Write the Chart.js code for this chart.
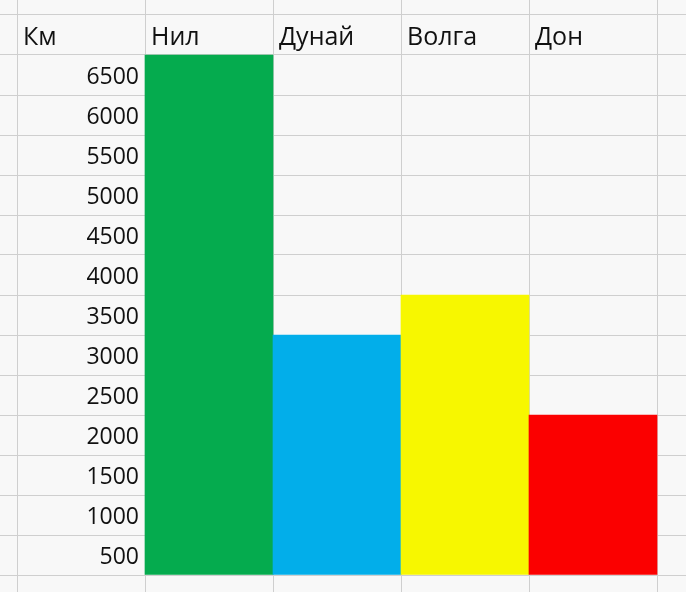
<!DOCTYPE html>
<html>
<head>
<meta charset="utf-8">
<script src="https://cdn.jsdelivr.net/npm/chart.js@4"></script>
<style>
  body { margin: 0; background: #f8f8f8; }
  #wrap { width: 686px; height: 592px; }
</style>
</head>
<body>
<div id="wrap"><canvas id="chart"></canvas></div>
<script>
// river lengths, km (one spreadsheet row = 500 km)
const unitLabel = 'Км';
const rivers = ['Нил', 'Дунай', 'Волга', 'Дон'];
const lengths = [6500, 3000, 3500, 2000];
const riverColors = ['#05ab4e', '#02aeea', '#f7f700', '#fb0000'];
const rowLabels = [6500, 6000, 5500, 5000, 4500, 4000, 3500, 3000, 2500, 2000, 1500, 1000, 500];

const step = 500;
const headFont = '25px "Open Sans", "Noto Sans", sans-serif';
const cellFont = '23px "Open Sans", "Noto Sans", sans-serif';

// texts of the sheet: header row and the km column
const sheetText = {
  id: 'sheetText',
  afterDatasetsDraw(chart) {
    const ctx = chart.ctx;
    const xs = chart.scales.x;
    const ys = chart.scales.y;
    ctx.save();
    ctx.fillStyle = '#111';
    ctx.textBaseline = 'middle';

    const top = rowLabels[0] + step;
    const headY = (ys.getPixelForValue(top) + ys.getPixelForValue(top - step)) / 2 + 3;
    ctx.font = headFont;
    ctx.textAlign = 'left';
    [unitLabel].concat(rivers).forEach((h, i) => {
      ctx.fillText(h, xs.getPixelForValue(i) + 6, headY);
    });

    ctx.font = cellFont;
    ctx.textAlign = 'right';
    rowLabels.forEach((v) => {
      const y = (ys.getPixelForValue(v) + ys.getPixelForValue(v - step)) / 2 + 2;
      ctx.fillText(String(v), xs.getPixelForValue(1) - 6, y);
    });
    ctx.restore();
  }
};

new Chart(document.getElementById('chart'), {
  type: 'bar',
  data: {
    datasets: [{
      label: unitLabel,
      data: lengths.map((v, i) => ({x: i + 1.5, y: v})),
      backgroundColor: riverColors,
      borderWidth: 0,
      barPercentage: 1,
      categoryPercentage: 1
    }]
  },
  options: {
    responsive: true,
    maintainAspectRatio: false,
    animation: false,
    layout: {padding: 0},
    plugins: {legend: {display: false}, tooltip: {enabled: false}},
    scales: {
      x: {
        type: 'linear',
        offset: false,
        min: -17 / 128,
        max: 669 / 128,
        afterBuildTicks: (s) => { s.ticks = [0, 1, 2, 3, 4, 5].map((v) => ({value: v})); },
        ticks: {display: false},
        border: {display: false},
        grid: {color: '#cfcfcf', lineWidth: 1, drawTicks: false, offset: false}
      },
      y: {
        min: -212.5,
        max: 7187.5,
        afterBuildTicks: (s) => {
          const t = [];
          for (let v = 0; v <= 7000; v += step) t.push({value: v});
          s.ticks = t;
        },
        ticks: {display: false},
        border: {display: false},
        grid: {color: '#cfcfcf', lineWidth: 1, drawTicks: false}
      }
    }
  },
  plugins: [sheetText]
});
</script>
</body>
</html>
